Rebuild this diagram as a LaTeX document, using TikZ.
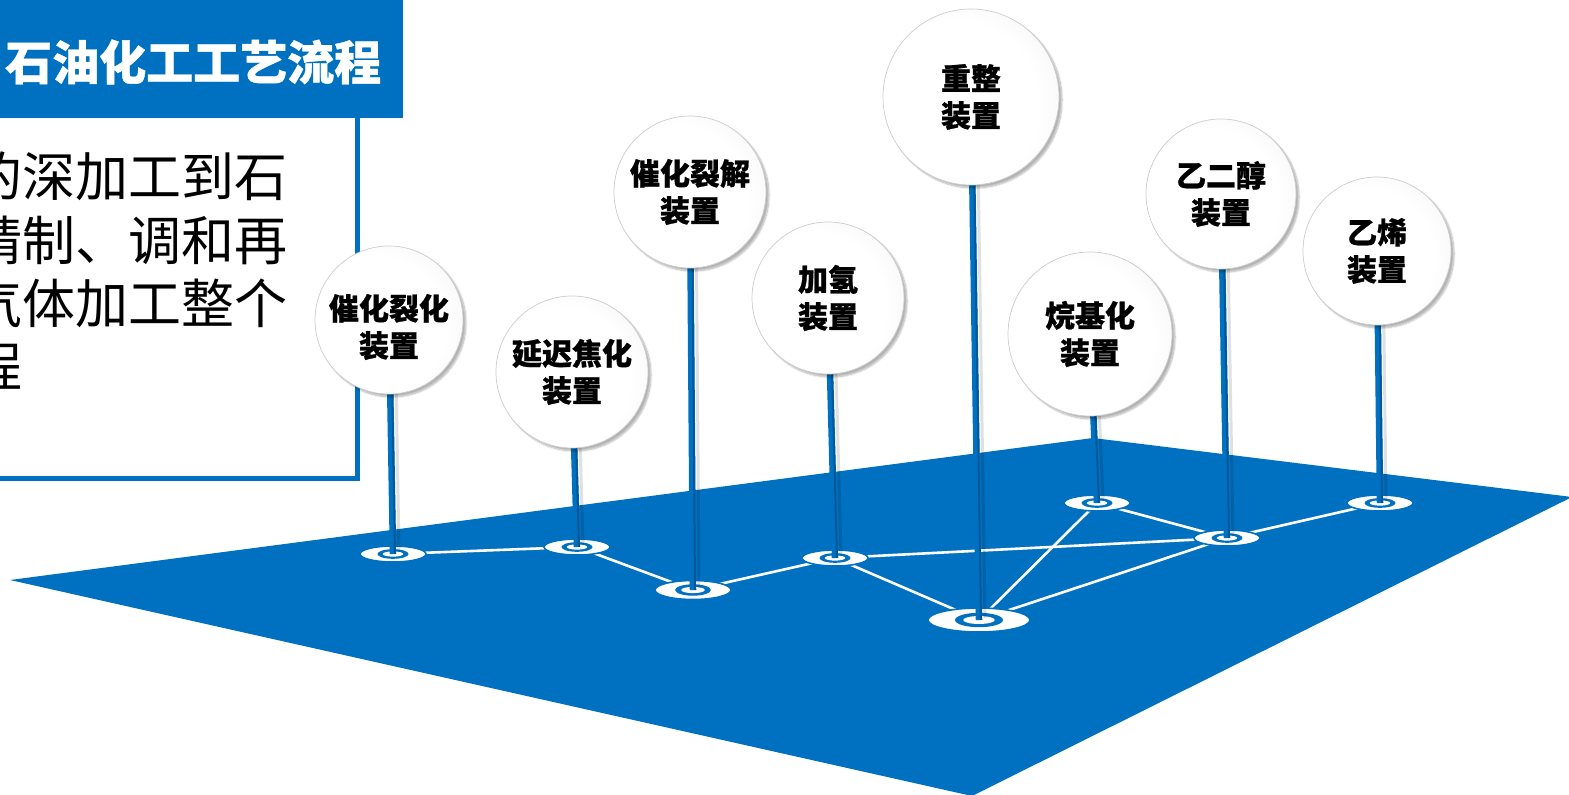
\documentclass[tikz,border=0pt]{standalone}
\usepackage{fontspec}
\newfontfamily\cjk{Noto Sans CJK SC}
\newfontfamily\cjkh{Noto Sans CJK SC}[BoldFeatures={FakeBold=0.8}]
\usetikzlibrary{shadows.blur}
\definecolor{mblue}{HTML}{0070C0}
\definecolor{dblue}{HTML}{00589A}
\pgfdeclareradialshading{ballshade}{\pgfpoint{-8bp}{-4bp}}{%
  color(0bp)=(white); color(24bp)=(white); color(44bp)=(gray!15); color(58bp)=(gray!28); color(62bp)=(gray!28)}
\newcommand\pindisc[3]{%
  \fill[white, draw=mblue, line width=1.6pt] (#1) ellipse [x radius=#2pt, y radius=#3pt];
  \fill[mblue] (#1) ellipse [x radius={0.47*#2pt}, y radius={0.6*#3pt}];
  \fill[white] (#1) ellipse [x radius={0.31*#2pt}, y radius={0.33*#3pt}];
}
\begin{document}
\begin{tikzpicture}[x=1pt,y=-1pt,
  ball/.style={circle, draw=gray!40, line width=0.7pt, shading=ballshade,
     blur shadow={shadow xshift=3pt, shadow yshift=-3pt, shadow blur steps=8, shadow opacity=30},
     font=\cjkh\bfseries\fontsize{30}{37}\selectfont, align=center, inner sep=0pt, text=black},
  link/.style={white, line width=2.6pt},
  stick/.style={mblue, line width=6.5pt},
  stickdark/.style={dblue, line width=2pt},
  stickshadow/.style={black, opacity=0.12, line width=3pt},
  body/.style={font=\cjk\fontsize{53}{63}\selectfont, anchor=base east, inner sep=0pt, text=black}
]
\useasboundingbox (0,0) rectangle (1569,795);
\clip (0,0) rectangle (1569,795);

% plane
\fill[mblue] (10,580) -- (1093,438) -- (1572,497) -- (972,796) -- cycle;

% title and box
\fill[mblue] (0,0) rectangle (403,118);
\node[font=\cjkh\bfseries\fontsize{47}{50}\selectfont, text=white, anchor=west, inner sep=0pt] (title) at (5,62) {石油化工工艺流程};
\draw[mblue, line width=5pt] (-5,478) -- (357,478) -- (357,116);

\node[body] (t1) at (288,196) {的深加工到石};
\node[body] (t2) at (288,260) {精制、调和再};
\node[body] (t3) at (288,323) {气体加工整个};
\node[body] (t4) at (23,386) {程};

% discs coordinates
\coordinate (d1) at (393,554);
\coordinate (d2) at (577,547);
\coordinate (d3) at (693,590);
\coordinate (d4) at (835,558);
\coordinate (d5) at (979,620);
\coordinate (d6) at (1097,503);
\coordinate (d7) at (1227,538);
\coordinate (d8) at (1380,503);

% links
\draw[link] (d1) -- (d2);
\draw[link] (d2) -- (d3);
\draw[link] (d3) -- (d4);
\draw[link] (d4) -- (d5);
\draw[link] (d4) -- (d7);
\draw[link] (d5) -- (d6);
\draw[link] (d5) -- (d7);
\draw[link] (d6) -- (d7);
\draw[link] (d7) -- (d8);

\pindisc{d1}{33}{8}
\pindisc{d2}{33}{8}
\pindisc{d3}{38}{9.5}
\pindisc{d4}{33}{8}
\pindisc{d5}{51}{12}
\pindisc{d6}{33}{8}
\pindisc{d7}{33}{8}
\pindisc{d8}{33}{8}

% ball positions
\coordinate (c1) at (389,320);
\coordinate (c2) at (572,372);
\coordinate (c3) at (690,192);
\coordinate (c4) at (828,298);
\coordinate (c5) at (971,97);
\coordinate (c6) at (1090,334);
\coordinate (c7) at (1221,194);
\coordinate (c8) at (1377,251);

% sticks
\foreach \i in {1,...,8}{
  \draw[stickshadow] ([xshift=6pt]c\i) -- ([xshift=6pt,yshift=2pt]d\i);
  \draw[stick] (c\i) -- (d\i);
  \draw[stickdark] ([xshift=2pt]c\i) -- ([xshift=2pt]d\i);
}

% balls
\node[ball, minimum size=148pt] (b1) at (c1) {};
\node[font=\cjkh\bfseries\fontsize{30}{37}\selectfont, align=center, inner sep=0pt] (l1) at ([yshift=-7pt]c1) {催化裂化\\装置};
\node[ball, minimum size=152pt] (b2) at (c2) {延迟焦化\\装置};
\node[ball, minimum size=152pt] (b3) at (c3) {催化裂解\\装置};
\node[ball, minimum size=152pt] (b4) at (c4) {加氢\\装置};
\node[ball, minimum size=176pt] (b5) at (c5) {重整\\装置};
\node[ball, minimum size=164pt] (b6) at (c6) {烷基化\\装置};
\node[ball, minimum size=150pt] (b7) at (c7) {乙二醇\\装置};
\node[ball, minimum size=148pt] (b8) at (c8) {乙烯\\装置};
\end{tikzpicture}
\end{document}
